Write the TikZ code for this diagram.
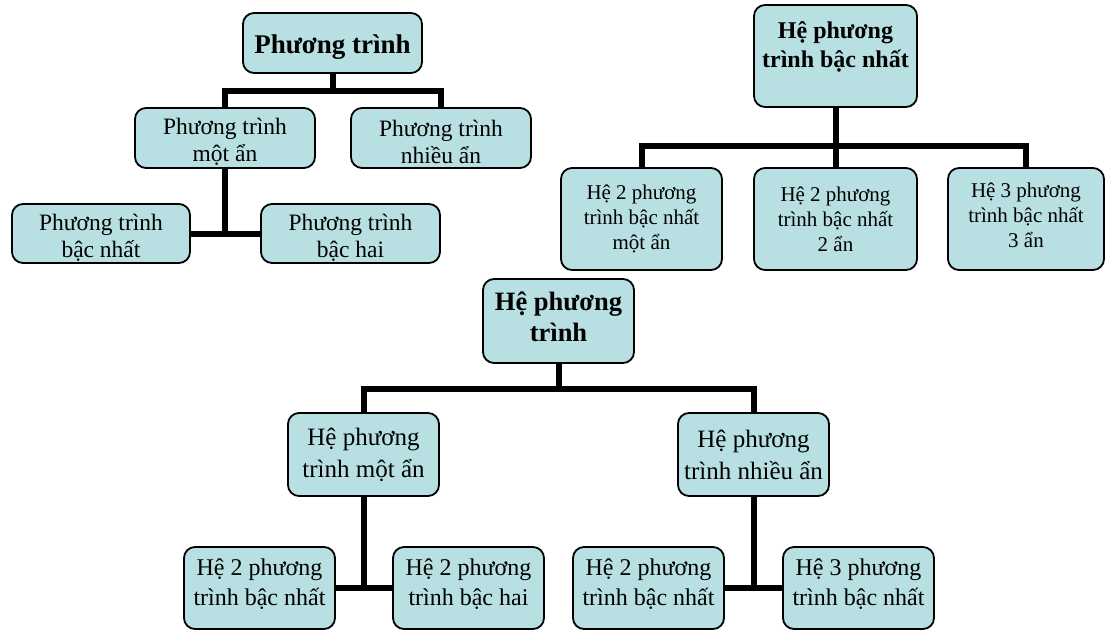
\documentclass[tikz,border=0pt]{standalone}
\usepackage{fontspec}
\setmainfont{Liberation Serif}
\usetikzlibrary{calc}
\definecolor{boxblue}{HTML}{B8DFE2}

\begin{document}
\begin{tikzpicture}[x=1pt, y=-1pt,
    bx/.style n args={2}{draw, rounded corners=11pt, fill=boxblue,
               line width=1.8pt, align=center, inner sep=0pt,
               minimum width=#1pt, minimum height=#2pt},
    ln/.style={line width=6pt}]
  \useasboundingbox (0,0) rectangle (1105,630);

  %% Phuong trinh (top left)
  \node[bx={179}{60}, font=\fontsize{27}{32}\selectfont\bfseries] (p0)
    at (332.5,43) {\rule{0pt}{27pt}Phương trình};
  \node[bx={180}{60}, font=\fontsize{23.5}{27}\selectfont] (p1)
    at (225,138) {\rule{0pt}{24pt}Phương trình\\một ẩn};
  \node[bx={180}{60}, font=\fontsize{23.5}{27}\selectfont] (p2)
    at (441,138) {\rule{0pt}{24pt}Phương trình\\nhiều ẩn};
  \node[bx={178}{59}, font=\fontsize{23.5}{27}\selectfont] (p3)
    at (101,233.5) {\rule{0pt}{24pt}Phương trình\\bậc nhất};
  \node[bx={179}{59}, font=\fontsize{23.5}{27}\selectfont] (p4)
    at (350.5,233.5) {\rule{0pt}{24pt}Phương trình\\bậc hai};

  \draw[ln] (p0.south) -- ++(0,17) -| (p1.north);
  \draw[ln] (p0.south) -- ++(0,17) -| (p2.north);
  \draw[ln] (p1.south) |- (p3.east);
  \draw[ln] (p1.south) |- (p4.west);

  %% He phuong trinh bac nhat (top right)
  \node[bx={163}{102}, text depth=22pt,
        font=\fontsize{24}{29}\selectfont\bfseries] (q0)
    at (835.5,56) {Hệ phương\\trình bậc nhất};
  \node[bx={161}{102}, font=\fontsize{21}{25}\selectfont] (q1)
    at (641.5,219) {Hệ 2 phương\\trình bậc nhất\\một ẩn};
  \node[bx={163}{102}, font=\fontsize{21}{25}\selectfont] (q2)
    at (835.5,219) {Hệ 2 phương\\trình bậc nhất\\2 ẩn};
  \node[bx={156}{102}, text depth=8pt,
        font=\fontsize{21}{25}\selectfont] (q3)
    at (1026,219) {Hệ 3 phương\\trình bậc nhất\\3 ẩn};

  \draw[ln] (q0.south) -- ++(0,38) -| (q1.north);
  \draw[ln] (q0.south) -- ++(0,38) -| (q2.north);
  \draw[ln] (q0.south) -- ++(0,38) -| (q3.north);

  %% He phuong trinh (bottom)
  \node[bx={151}{84}, text depth=8pt,
        font=\fontsize{26.5}{31}\selectfont\bfseries] (r0)
    at (558.5,321) {Hệ phương\\trình};
  \node[bx={151}{83}, font=\fontsize{25}{32}\selectfont] (r1)
    at (363.5,454.5) {Hệ phương\\trình một ẩn};
  \node[bx={151}{83}, font=\fontsize{25}{32}\selectfont] (r2)
    at (753.5,454.5) {Hệ phương\\trình nhiều ẩn};
  \node[bx={151}{82}, text depth=12pt, font=\fontsize{24}{30}\selectfont] (r3)
    at (259.5,588) {Hệ 2 phương\\trình bậc nhất};
  \node[bx={151}{82}, text depth=12pt, font=\fontsize{24}{30}\selectfont] (r4)
    at (468.5,588) {Hệ 2 phương\\trình bậc hai};
  \node[bx={151}{82}, text depth=12pt, font=\fontsize{24}{30}\selectfont] (r5)
    at (648.5,588) {Hệ 2 phương\\trình bậc nhất};
  \node[bx={151}{82}, text depth=12pt, font=\fontsize{24}{30}\selectfont] (r6)
    at (858.5,588) {Hệ 3 phương\\trình bậc nhất};

  \draw[ln] (r0.south) -- ++(0,25) -| (r1.north);
  \draw[ln] (r0.south) -- ++(0,25) -| (r2.north);
  \draw[ln] (r1.south) |- (r3.east);
  \draw[ln] (r1.south) |- (r4.west);
  \draw[ln] (r2.south) |- (r5.east);
  \draw[ln] (r2.south) |- (r6.west);
\end{tikzpicture}
\end{document}
